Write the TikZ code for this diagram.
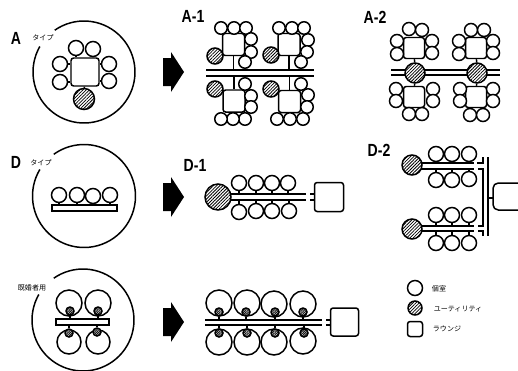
\documentclass[tikz,border=0pt]{standalone}
\usepackage{fontspec}
\setsansfont{Liberation Sans}
\newfontfamily\jpfont{Noto Sans CJK JP}
\usetikzlibrary{patterns.meta}
\tikzset{
    room/.style={circle, draw, fill=white, inner sep=0pt, minimum size=#1*0.2mm},
    room/.default=14,
    util/.style={circle, draw, inner sep=0pt, minimum size=#1*0.2mm,
        preaction={fill=white},
        pattern={Lines[angle=45,distance=1.3pt,line width=0.45pt]}},
    util/.default=20,
    tinyutil/.style={circle, draw, inner sep=0pt, minimum size=8*0.2mm,
        preaction={fill=white},
        pattern={Lines[angle=45,distance=0.7pt,line width=0.4pt]}},
    lounge/.style={rectangle, draw, fill=white, rounded corners=1.5pt, inner sep=0pt, minimum size=#1*0.2mm},
    bar/.style={rectangle, draw, fill=white, inner sep=0pt, minimum width=#1*0.2mm, minimum height=6*0.2mm},
    title/.style={font=\sffamily\bfseries\fontsize{10}{10}\selectfont, xscale=0.8},
    small/.style={font=\jpfont\fontsize{4}{4}\selectfont, inner sep=0pt},
}
\begin{document}
\begin{tikzpicture}[x=0.2mm, y=-0.2mm, line width=0.85pt]
        \useasboundingbox (0,0) rectangle (518,370);
        \clip (0,0) rectangle (518,370);

        % type rings
        \draw[smooth] plot[domain=150:485,samples=70] ({84+51*cos(\x)},{72-51*sin(\x)});
        \draw[smooth] plot[domain=149:486,samples=70] ({84+51.5*cos(\x)},{196-51.5*sin(\x)});
        \draw[smooth] plot[domain=150:485,samples=70] ({83+51*cos(\x)},{320-51*sin(\x)});

        % arrows
        \foreach \ya in {72,197,322}
            \fill (163,\ya-14) -- (171,\ya-14) -- (171,\ya-20) -- (184,\ya) -- (171,\ya+20) -- (171,\ya+14) -- (163,\ya+14) -- cycle;

        % A
        \node[lounge=28] (aL) at (85,72) {};
        \foreach \n/\x/\y in {1/76/48,2/93/49,3/60/64,4/60/82,5/109/64,6/109/81}
            \node[room=15] (aR\n) at (\x,\y) {};
        \node[util=21] (aU) at (84,99) {};
        \draw (aU) -- (aL);
        \foreach \n in {1,2} \draw (aR\n) -- (aR\n |- aL.north);
        \foreach \n in {3,4} \draw (aR\n) -- (aR\n -| aL.west);
        \foreach \n in {5,6} \draw (aR\n) -- (aR\n -| aL.east);

        % A-1
        \coordinate (p1w) at (206,70);
        \coordinate (p1e) at (314,70);
        \coordinate (q1w) at (206,76);
        \coordinate (q1e) at (314,76);
        \draw (p1w) -- (p1e);
        \draw (q1w) -- (q1e);
        \foreach \n/\x/\y in {1/233.5/44.5,2/289/44.5,3/234/101,4/289.5/101.5}
            \node[lounge=22] (pL\n) at (\x,\y) {};
        \draw (pL1) -- (pL1 |- p1w);
        \draw (pL2) -- (pL2 |- p1w);
        \draw (pL3) -- (pL3 |- q1w);
        \draw (pL4) -- (pL4 |- q1w);
        \foreach \x/\y in {221/28,234/28,246/28,251/39,251/52,245/62,
                279/28,292/28,304/28,308/40,307/52,301/62,
                245/84,251/96,251/107,245/119,233/119,221/119,
                301/84,308/95,307/107,303/119,290/119,277/119}
            \node[room=12.5] at (\x,\y) {};
        \foreach \x/\y in {215/56,271/55,215/89,271/89}
            \node[util=16] at (\x,\y) {};

        % A-2
        \coordinate (r1w) at (391,70);
        \coordinate (r1e) at (500,70);
        \coordinate (s1w) at (391,75);
        \coordinate (s1e) at (500,75);
        \draw (r1w) -- (r1e);
        \draw (s1w) -- (s1e);
        \foreach \n/\x/\y in {1/414/48,2/476/48,3/414/97,4/476/97}
            \node[lounge=21] (rL\n) at (\x,\y) {};
        \node[util] (rU1) at (415,73) {};
        \node[util] (rU2) at (477,73) {};
        \draw (rU1) -- (rL1);
        \draw (rU1) -- (rL3);
        \draw (rU2) -- (rL2);
        \draw (rU2) -- (rL4);
        \foreach \x/\y in {409/29,422/30,397/41,397/54,432/41,432/53,
                471/30,484/30,459/41,459/54,493/41,493/53,
                396/89,396/101,433/89,433/101,409/114,422/114,
                460/89,460/101,493/89,493/101,470/115,483/115}
            \node[room=13] at (\x,\y) {};

        % D
        \node[bar=65] (dB) at (84.5,208) {};
        \foreach \n/\x/\y in {1/59/195,2/77/195,3/93/196,4/110/195}{
            \node[room=15] (dR\n) at (\x,\y) {};
            \draw (dR\n) -- (dR\n |- dB.north);
        }

        % D-1
        \coordinate (e1w) at (225,194);
        \coordinate (e1e) at (306,194);
        \coordinate (f1w) at (225,200);
        \coordinate (f1e) at (306,200);
        \draw (e1w) -- (e1e);
        \draw (f1w) -- (f1e);
        \node[util=26] (eU) at (218,197) {};
        \node[lounge=29] (eL) at (329,197) {};
        \draw (310,194) -- (eL.west |- e1e);
        \draw (310,200) -- (eL.west |- f1e);
        \foreach \n/\x/\y in {1/239/183,2/256/183,3/272/183,4/288/183}{
            \node[room=15] (eR\n) at (\x,\y) {};
            \draw (eR\n) -- (eR\n |- e1w);
        }
        \foreach \n/\x/\y in {5/239/212,6/256/211,7/272/211,8/289/211}{
            \node[room=15] (eR\n) at (\x,\y) {};
            \draw (eR\n) -- (eR\n |- f1w);
        }

        % D-2
        \foreach \n/\y/\yb in {1/163/169,2/226/231}{
            \coordinate (g\n w) at (415,\y);
            \coordinate (g\n e) at (474,\y);
            \coordinate (h\n w) at (415,\yb);
            \coordinate (h\n e) at (474,\yb);
            \draw (g\n w) -- (g\n e);
            \draw (h\n w) -- (h\n e);
        }
        \node[util] (gU1) at (412,165) {};
        \node[util] (gU2) at (412,229) {};
        \foreach \n/\x/\y in {1/436/154,2/452/154,3/469/154}{
            \node[room=15] (gR\n) at (\x,\y) {};
            \draw (gR\n) -- (gR\n |- g1w);
        }
        \foreach \n/\x/\y in {4/436/180,5/452/180,6/469/179}{
            \node[room=15] (gR\n) at (\x,\y) {};
            \draw (gR\n) -- (gR\n |- h1w);
        }
        \foreach \n/\x/\y in {7/436/215,8/452/215,9/469/215}{
            \node[room=15] (gR\n) at (\x,\y) {};
            \draw (gR\n) -- (gR\n |- g2w);
        }
        \foreach \n/\x/\y in {10/436/243,11/452/243,12/469/243}{
            \node[room=15] (gR\n) at (\x,\y) {};
            \draw (gR\n) -- (gR\n |- h2w);
        }
        \draw (477,163) -- (483,163) -- (483,157);
        \draw (478,169) -- (483,169) -- (483,226) -- (478,226);
        \draw (478,231) -- (483,231) -- (483,236);
        \coordinate (gT) at (488,157);
        \coordinate (gB) at (488,236);
        \draw (gT) -- (gB);
        \draw[rounded corners=3pt] (522,183) -- (493,183) -- (493,210) -- (522,210);
        \draw (488,198) -- (493,198);

        % married type
        \node[bar=53] (kB) at (82.5,322) {};
        \foreach \n/\x/\y/\ux/\uy in {1/69/303/70/311,2/98/303/98/311}{
            \node[room=26] (kR\n) at (\x,\y) {};
            \node[tinyutil] (kU\n) at (\ux,\uy) {};
            \draw (kU\n) -- (kU\n |- kB.north);
        }
        \foreach \n/\x/\y/\ux/\uy in {3/69/342/69/333,4/98/342/97/332}{
            \node[room=24] (kR\n) at (\x,\y) {};
            \node[tinyutil] (kU\n) at (\ux,\uy) {};
            \draw (kU\n) -- (kU\n |- kB.south);
        }

        % married, row
        \coordinate (m1w) at (205,320);
        \coordinate (m1e) at (322,320);
        \coordinate (n1w) at (205,325);
        \coordinate (n1e) at (322,325);
        \draw (m1w) -- (m1e);
        \draw (n1w) -- (n1e);
        \node[lounge=28] (mL) at (344.5,322) {};
        \draw (326,320) -- (mL.west |- m1e);
        \draw (326,325) -- (mL.west |- n1e);
        \foreach \n/\x/\y/\ux in {1/219/303/219,2/247/303/246,3/274/304/275,4/303/304/303}{
            \node[room=26] (mR\n) at (\x,\y) {};
            \node[tinyutil] (mU\n) at (\ux,312) {};
            \draw (mU\n) -- (mU\n |- m1w);
        }
        \foreach \n/\x/\y/\ux in {5/219/342/219,6/247/342/247,7/274/342/275,8/303/341/304}{
            \node[room=26] (mR\n) at (\x,\y) {};
            \node[tinyutil] (mU\n) at (\ux,333) {};
            \draw (mU\n) -- (mU\n |- n1w);
        }

        % key
        \node[room=15] (keyR) at (415,288) {};
        \node[util=14] (keyU) at (415,308) {};
        \node[lounge=15] (keyL) at (415,329) {};
        \node[small] at (439,289) {個室};
        \node[small] at (458,309) {ユーティリティ};
        \node[small] at (447,329) {ラウンジ};

        % labels
        \node[title] at (16,38) {A};
        \node[title] at (193,16) {A-1};
        \node[title] at (375,17) {A-2};
        \node[title] at (16,162) {D};
        \node[title] at (195,165) {D-1};
        \node[title] at (379,150) {D-2};
        \node[small] at (43,38) {タイプ};
        \node[small] at (41,163) {タイプ};
        \node[small] at (32,288) {既婚者用};
    \end{tikzpicture}
\end{document}
